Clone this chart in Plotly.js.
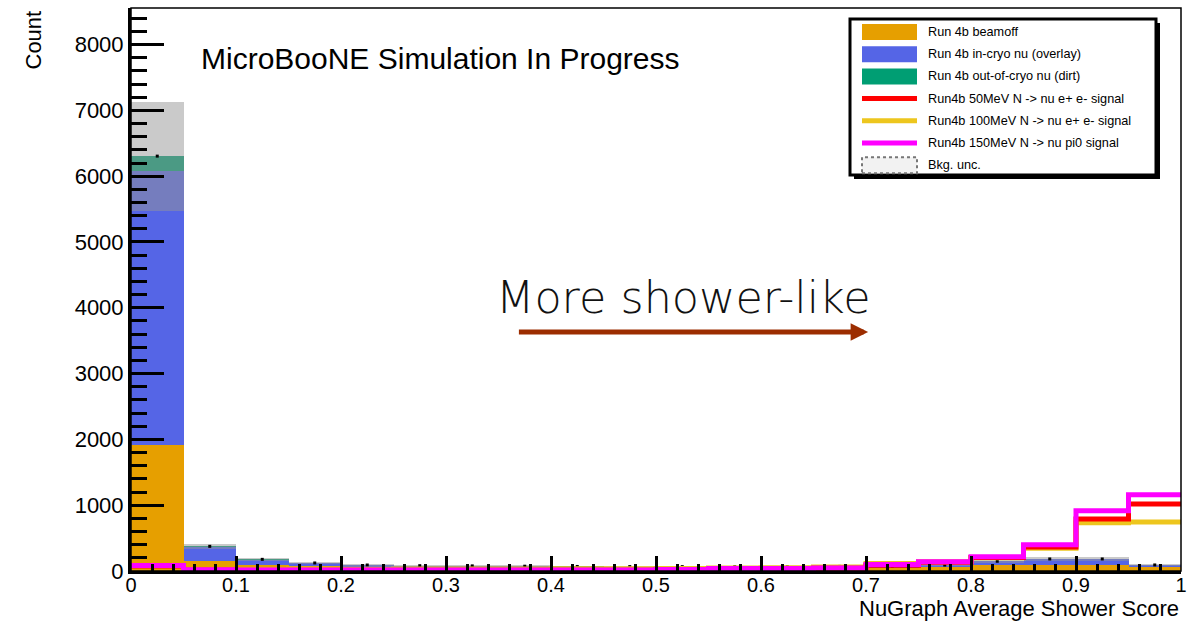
<!DOCTYPE html>
<html><head><meta charset="utf-8">
<script src="https://cdn.plot.ly/plotly-3.0.1.min.js"></script>
<style>html,body{margin:0;padding:0;background:#fff}#chart{width:1204px;height:623px}</style>
</head><body><div id="chart"></div>
<script>
// ---- data ----
const binEdges = [0, 0.05, 0.1, 0.15, 0.2, 0.25, 0.3, 0.35, 0.4, 0.45, 0.5, 0.55, 0.6, 0.65, 0.7, 0.75, 0.8, 0.85, 0.9, 0.95, 1.0];
const beamoff = [1915, 155, 95, 72, 52, 48, 45, 42, 40, 38, 38, 38, 40, 42, 45, 55, 85, 95, 92, 55];
const overlay = [4165, 205, 75, 45, 35, 30, 30, 28, 26, 26, 25, 24, 24, 25, 28, 32, 60, 85, 88, 35];
const dirt    = [225, 15, 7, 5, 4, 3, 3, 3, 3, 3, 3, 3, 3, 3, 3, 3, 3, 3, 3, 2];
const bkgUnc  = [830, 42, 20, 15, 14, 13, 13, 12, 12, 12, 12, 12, 12, 12, 13, 14, 22, 25, 28, 15];
const sig50   = [75, 15, 12, 12, 12, 12, 12, 12, 12, 12, 18, 32, 34, 40, 88, 132, 205, 365, 790, 1018];
const sig100  = [78, 22, 22, 25, 28, 30, 32, 32, 34, 35, 38, 45, 50, 62, 115, 135, 200, 345, 735, 745];
const sig150  = [85, 18, 15, 15, 15, 15, 15, 15, 15, 15, 22, 38, 38, 44, 97, 142, 218, 400, 917, 1160];
const legendLabels = [
  "Run 4b beamoff",
  "Run 4b in-cryo nu (overlay)",
  "Run 4b out-of-cryo nu (dirt)",
  "Run4b 50MeV N -> nu e+ e- signal",
  "Run4b 100MeV N -> nu e+ e- signal",
  "Run4b 150MeV N -> nu pi0 signal",
  "Bkg. unc."
];
const xTitle = "NuGraph Average Shower Score";
const yTitle = "Count";
const simLabel = "MicroBooNE Simulation In Progress";
const arrowLabel = "More shower-like";

// ---- styles ----
const C = {beamoff:'#E69F00', overlay:'#5565E6', dirt:'#009E73', unc:'rgba(150,150,150,0.5)',
           s50:'#FF0000', s100:'#EDC61E', s150:'#FF00FF', arrow:'#9C2D00'};
const FONT = 'Liberation Sans, Arial, Helvetica, sans-serif';
const W = 1204, H = 623, M = {l:131, r:23, t:8, b:52};
const PW = W - M.l - M.r, PH = H - M.t - M.b;
const px = v => (v - M.l) / PW;
const py = v => (H - M.b - v) / PH;

const centers = binEdges.slice(0, -1).map((e, i) => (e + binEdges[i + 1]) / 2);
const widths = binEdges.slice(0, -1).map((e, i) => binEdges[i + 1] - e);
const totals = beamoff.map((v, i) => v + overlay[i] + dirt[i]);
const stepY = a => a.concat([a[a.length - 1]]);

const barT = (y, color) => ({type:'bar', x:centers, y:y, width:widths, marker:{color:color, line:{width:0}}, showlegend:false, hoverinfo:'skip'});
const lineT = (y, color) => ({type:'scatter', mode:'lines', x:binEdges, y:stepY(y), line:{color:color, width:5, shape:'hv'}, showlegend:false, hoverinfo:'skip'});

const traces = [
  barT(beamoff, C.beamoff),
  barT(overlay, C.overlay),
  barT(dirt, C.dirt),
  {type:'bar', x:centers, y:bkgUnc.map(u => 2 * u), base:totals.map((t, i) => t - bkgUnc[i]), width:widths,
   marker:{color:C.unc, line:{width:0}}, showlegend:false, hoverinfo:'skip'},
  {type:'scatter', mode:'markers', x:centers, y:totals, marker:{symbol:'square', size:3, color:'#000'}, showlegend:false, hoverinfo:'skip'},
  lineT(sig100, C.s100),
  lineT(sig50, C.s50),
  lineT(sig150, C.s150)
];

// ---- legend (drawn) ----
const shapes = [];
const annotations = [];
shapes.push({type:'rect', xref:'paper', yref:'paper', x0:px(854), x1:px(1160), y0:py(179), y1:py(23), fillcolor:'#000', line:{width:0}});
shapes.push({type:'rect', xref:'paper', yref:'paper', x0:px(850), x1:px(1156), y0:py(175), y1:py(19), fillcolor:'#fff', line:{color:'#000', width:3}});
const swatch = [
  {kind:'fill', color:C.beamoff}, {kind:'fill', color:C.overlay}, {kind:'fill', color:C.dirt},
  {kind:'line', color:C.s50}, {kind:'line', color:C.s100}, {kind:'line', color:C.s150}, {kind:'unc'}
];
legendLabels.forEach((lab, i) => {
  const yc = 32 + 22.2 * i;
  const s = swatch[i];
  if (s.kind === 'fill') {
    shapes.push({type:'rect', xref:'paper', yref:'paper', x0:px(862), x1:px(917), y0:py(yc + 8), y1:py(yc - 8), fillcolor:s.color, line:{width:0}});
  } else if (s.kind === 'line') {
    shapes.push({type:'rect', xref:'paper', yref:'paper', x0:px(862), x1:px(917), y0:py(yc + 2.5), y1:py(yc - 2.5), fillcolor:s.color, line:{width:0}});
  } else {
    shapes.push({type:'rect', xref:'paper', yref:'paper', x0:px(862), x1:px(917), y0:py(yc + 8), y1:py(yc - 8), fillcolor:'#f2f2f2', line:{color:'#777', width:2, dash:'dot'}});
  }
  annotations.push({xref:'paper', yref:'paper', x:px(926), y:py(yc), xanchor:'left', yanchor:'middle', text:lab, showarrow:false,
                    font:{family:FONT, size:12.7, color:'#000'}});
});
// frame (thin top/right)
shapes.push({type:'rect', xref:'paper', yref:'paper', x0:0, x1:1, y0:0, y1:1, fillcolor:'rgba(0,0,0,0)', line:{color:'#000', width:1.5}, layer:'above'});

annotations.push({xref:'paper', yref:'paper', x:px(33), y:py(9), xanchor:'center', yanchor:'top', textangle:-90, text:yTitle, showarrow:false, font:{family:FONT, size:22, color:'#000'}});
annotations.push({xref:'paper', yref:'paper', x:1, y:py(608), xanchor:'right', yanchor:'middle', text:xTitle, showarrow:false, font:{family:FONT, size:22, color:'#000'}});
annotations.push({xref:'paper', yref:'paper', x:px(199), y:py(58), xanchor:'left', yanchor:'middle', text:simLabel, showarrow:false, font:{family:FONT, size:30, color:'#000'}});
annotations.push({xref:'paper', yref:'paper', x:px(494), y:py(297), xanchor:'left', yanchor:'middle', text:arrowLabel, showarrow:false, font:{family:'DejaVu Sans, sans-serif', size:44.5, weight:200, color:'#111'}});
annotations.push({xref:'x', yref:'y', axref:'x', ayref:'y', x:0.702, y:3632, ax:0.368, ay:3632, text:'', showarrow:true,
                  arrowhead:2, arrowsize:0.7, arrowwidth:5, arrowcolor:C.arrow, standoff:0, startstandoff:0});

const layout = {
  width:W, height:H, margin:M, paper_bgcolor:'#fff', plot_bgcolor:'#fff',
  barmode:'stack', bargap:0, showlegend:false,
  font:{family:FONT, color:'#000'},
  xaxis:{range:[0, 1], showline:true, linewidth:3, linecolor:'#000', showgrid:false, zeroline:false,
         ticks:'inside', ticklen:15, tickwidth:3, tickcolor:'#000', tick0:0, dtick:0.1, ticklabelstandoff:-6,
         minor:{ticks:'inside', ticklen:7, tickwidth:3, tickcolor:'#000', dtick:0.02, showgrid:false},
         tickfont:{family:FONT, size:20, color:'#000'}},
  yaxis:{range:[0, 8556], showline:true, linewidth:3, linecolor:'#000', showgrid:false, zeroline:false,
         ticks:'inside', ticklen:33, tickwidth:3, tickcolor:'#000', tick0:0, dtick:1000, tickformat:'d',
         minor:{ticks:'inside', ticklen:16, tickwidth:3, tickcolor:'#000', dtick:200, showgrid:false},
         tickfont:{family:FONT, size:22, color:'#000'}},
  shapes:shapes, annotations:annotations
};
Plotly.newPlot('chart', traces, layout, {displayModeBar:false, staticPlot:true});
</script></body></html>
